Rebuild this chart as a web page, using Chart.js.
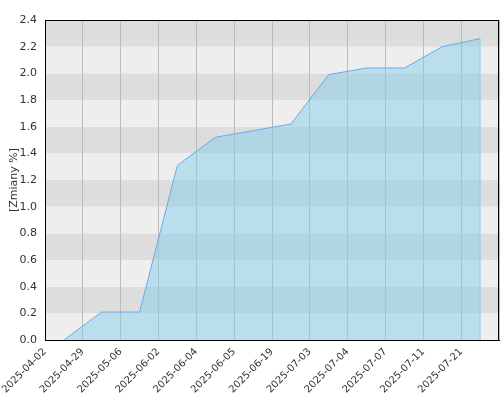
<!DOCTYPE html>
<html>
<head>
<meta charset="utf-8">
<script src="https://cdn.jsdelivr.net/npm/chart.js@4/dist/chart.umd.min.js"></script>
<style>
  html, body { margin: 0; padding: 0; background: #fff; }
  #wrap { width: 500px; height: 400px; }
</style>
</head>
<body>
<div id="wrap"><canvas id="chart"></canvas></div>
<script>
// ---- data ----
const dates = [
  '2025-04-02', '2025-04-29', '2025-05-06', '2025-06-02', '2025-06-04', '2025-06-05',
  '2025-06-19', '2025-07-03', '2025-07-04', '2025-07-07', '2025-07-11', '2025-07-21',
];
const changes = [0.0, 0.21, 0.21, 1.31, 1.52, 1.57, 1.62, 1.99, 2.04, 2.04, 2.2, 2.26];
const yTitle = '[Zmiany %]';

Chart.defaults.font.family = "'DejaVu Sans', sans-serif";
Chart.defaults.color = '#333';

// alternating grey bands behind the plot, closing edge of the area, black frame
const bands = {
  id: 'bands',
  beforeDraw(chart) {
    const { ctx, chartArea: a, scales: { y } } = chart;
    const ticks = y.ticks;
    ctx.save();
    for (let i = 0; i < ticks.length - 1; i++) {
      const y0 = y.getPixelForValue(ticks[i].value);
      const y1 = y.getPixelForValue(ticks[i + 1].value);
      ctx.fillStyle = i % 2 ? '#dddddd' : '#eeeeee';
      ctx.fillRect(a.left, y1, a.right - a.left, y0 - y1);
    }
    ctx.restore();
  },
  afterDatasetsDraw(chart) {
    const { ctx, scales: { y } } = chart;
    const pts = chart.getDatasetMeta(0).data;
    const last = pts[pts.length - 1];
    ctx.save();
    ctx.strokeStyle = '#87ceeb';
    ctx.lineWidth = 1;
    ctx.beginPath();
    ctx.moveTo(last.x, last.y);
    ctx.lineTo(last.x, y.getPixelForValue(0));
    ctx.stroke();
    ctx.restore();
  },
  afterDraw(chart) {
    const { ctx, chartArea: a } = chart;
    ctx.save();
    ctx.strokeStyle = '#000';
    ctx.lineWidth = 1;
    ctx.strokeRect(a.left + 0.5, a.top + 0.5, a.right - a.left - 1, a.bottom - a.top);
    ctx.restore();
  },
};

new Chart(document.getElementById('chart'), {
  type: 'line',
  data: {
    labels: dates,
    datasets: [{
      data: changes,
      borderColor: '#66aaee',
      borderWidth: 1,
      backgroundColor: 'rgba(135,206,235,0.5)',
      fill: 'origin',
      pointRadius: 0,
      tension: 0,
    }],
  },
  options: {
    responsive: true,
    maintainAspectRatio: false,
    animation: false,
    layout: { padding: { top: 20, right: 1, left: 0, bottom: 0 } },
    plugins: {
      legend: { display: false },
      tooltip: { enabled: false },
    },
    scales: {
      x: {
        offset: true,
        grid: { offset: true, color: '#bbbbbb', drawTicks: false },
        border: { color: '#000' },
        ticks: {
          autoSkip: false,
          minRotation: 45,
          maxRotation: 45,
          labelOffset: -19,
          padding: 6,
          font: { size: 10 },
        },
        afterFit: s => { s.height = 60; },
      },
      y: {
        min: 0,
        max: 2.4,
        grid: { display: false, drawTicks: false },
        border: { color: '#000' },
        ticks: {
          stepSize: 0.2,
          padding: 8,
          font: { size: 11 },
          callback: v => v.toFixed(1),
        },
        title: {
          display: true,
          text: yTitle,
          font: { size: 11 },
          padding: { top: 8, bottom: 0 },
        },
        afterFit: s => { s.width = 45; },
      },
    },
  },
  plugins: [bands],
});
</script>
</body>
</html>
